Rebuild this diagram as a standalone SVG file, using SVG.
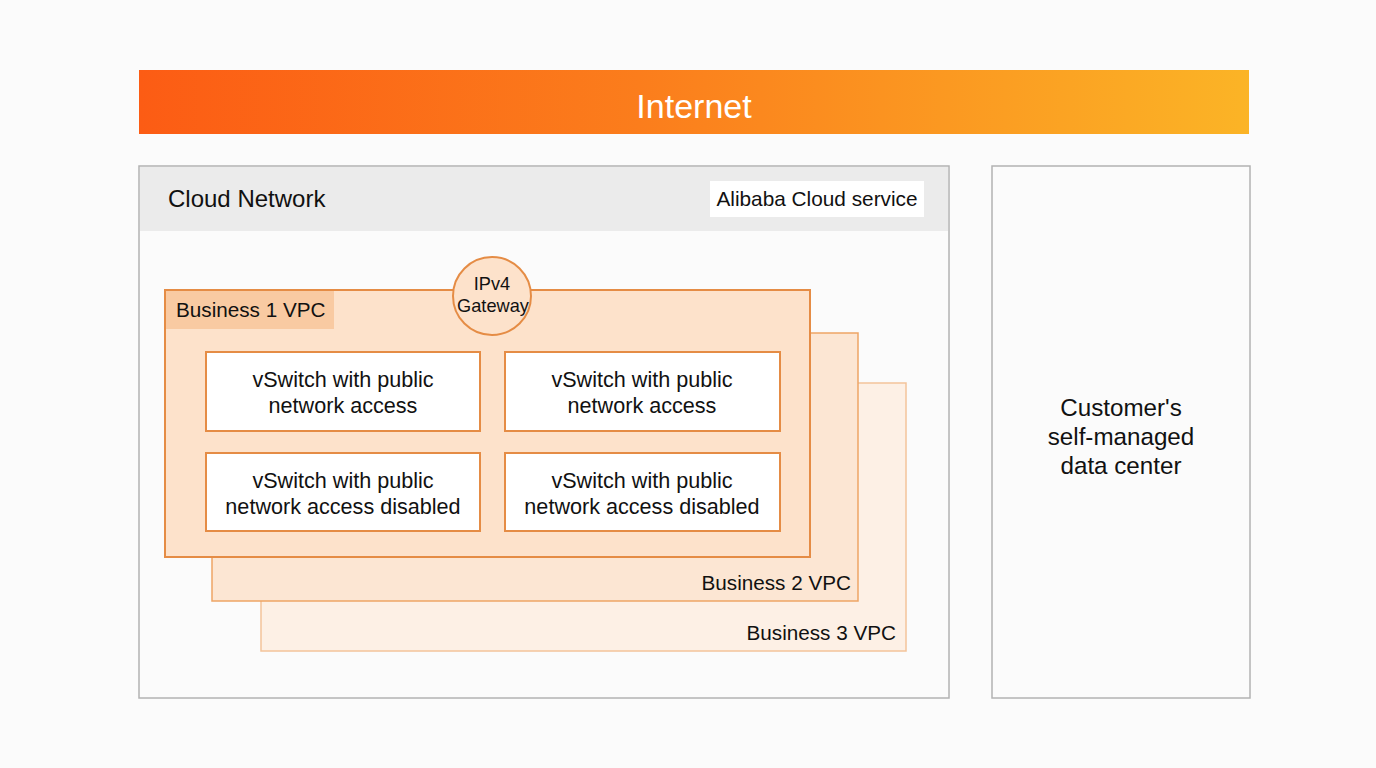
<svg xmlns="http://www.w3.org/2000/svg" width="1376" height="768" viewBox="0 0 1376 768">
<defs>
<linearGradient id="inet" x1="0" y1="0" x2="1" y2="0">
<stop offset="0" stop-color="#fc5c14"/>
<stop offset="0.45" stop-color="#fb7d1c"/>
<stop offset="1" stop-color="#fbb426"/>
</linearGradient>
</defs>
<style>
text{font-family:"Liberation Sans",Arial,sans-serif;fill:#111}
.vs{fill:#fff;stroke:#e58c45;stroke-width:2}
.vt{font-size:21.6px;text-anchor:middle}
.lbl{font-size:20.7px}
</style>
<rect width="1376" height="768" fill="#fbfbfb"/>
<g id="internet">
<rect x="139" y="70" width="1110" height="64" fill="url(#inet)"/>
<text x="694" y="118" font-size="34" text-anchor="middle" style="fill:#fff">Internet</text>
</g>
<g id="cloud-network">
<rect x="139" y="166" width="810" height="532" fill="#fbfbfb" stroke="#b3b3b3" stroke-width="1.5"/>
<rect x="140" y="167" width="808" height="64" fill="#ebebeb"/>
<text x="168" y="207" font-size="24">Cloud Network</text>
</g>
<g id="alibaba-cloud-service">
<rect x="710" y="181" width="214" height="36" fill="#fff"/>
<text x="817" y="206" font-size="20.8" text-anchor="middle">Alibaba Cloud service</text>
</g>
<g id="customer-dc">
<rect x="992" y="166" width="258" height="532" fill="#fbfbfb" stroke="#b3b3b3" stroke-width="1.5"/>
<text x="1121" y="416" font-size="24.2" text-anchor="middle">Customer's</text>
<text x="1121" y="445" font-size="24.2" text-anchor="middle">self-managed</text>
<text x="1121" y="474" font-size="24.2" text-anchor="middle">data center</text>
</g>
<g id="business3-vpc">
<rect x="261" y="383" width="645" height="268" fill="#fdf0e5" stroke="#f3c49a" stroke-width="1.5"/>
<text x="896" y="640" class="lbl" text-anchor="end">Business 3 VPC</text>
</g>
<g id="business2-vpc">
<rect x="212" y="333" width="646" height="268" fill="#fce6d3" stroke="#eea565" stroke-width="1.5"/>
<text x="851" y="590" class="lbl" text-anchor="end">Business 2 VPC</text>
</g>
<g id="business1-vpc">
<rect x="165" y="290" width="645" height="267" fill="#fde2cb" stroke="#e58c45" stroke-width="2"/>
<rect x="166" y="291" width="168" height="38" fill="#f9caa2"/>
<text x="176" y="317" class="lbl">Business 1 VPC</text>
</g>
<g id="ipv4-gateway">
<circle cx="492" cy="296" r="39" fill="#fde2cb" stroke="#e58c45" stroke-width="2"/>
<text x="492" y="290" font-size="18.2" text-anchor="middle">IPv4</text>
<text x="493" y="312" font-size="18.2" text-anchor="middle">Gateway</text>
</g>
<g id="vswitch1">
<rect class="vs" x="206" y="352" width="274" height="79"/>
<text class="vt" x="343" y="387">vSwitch with public</text>
<text class="vt" x="343" y="413">network access</text>
</g>
<g id="vswitch2">
<rect class="vs" x="505" y="352" width="275" height="79"/>
<text class="vt" x="642" y="387">vSwitch with public</text>
<text class="vt" x="642" y="413">network access</text>
</g>
<g id="vswitch3">
<rect class="vs" x="206" y="453" width="274" height="78"/>
<text class="vt" x="343" y="488">vSwitch with public</text>
<text class="vt" x="343" y="514">network access disabled</text>
</g>
<g id="vswitch4">
<rect class="vs" x="505" y="453" width="275" height="78"/>
<text class="vt" x="642" y="488">vSwitch with public</text>
<text class="vt" x="642" y="514">network access disabled</text>
</g>
<g id="connectors"/>
</svg>
